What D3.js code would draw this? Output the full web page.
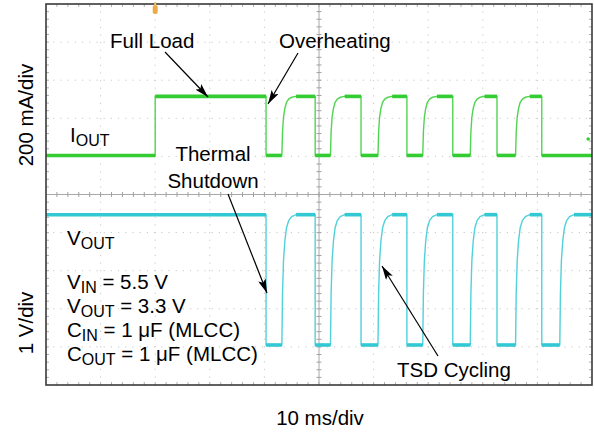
<!DOCTYPE html>
<html>
<head>
<meta charset="utf-8">
<script src="https://cdn.jsdelivr.net/npm/d3@7"></script>
<style>
  html, body { margin: 0; padding: 0; background: #fff; }
  svg { display: block; font-family: "Liberation Sans", Arial, Helvetica, sans-serif; }
</style>
</head>
<body>
<svg id="chart" width="594" height="433"></svg>
<script>
// ---- Scope capture: thermal shutdown cycling ----
const timeDivMs = 10;                 // 10 ms/div
const timeDivisions = 10;
const vertDivisions = 10;

// Edge times (ms)
const loadStepMs = 20.0;
const tsdOffMs = [40.3, 49.3, 57.7, 66.1, 74.5, 82.6, 90.8];
const tsdOnMs  = [43.2, 52.1, 60.8, 69.0, 77.7, 86.0, 94.1];
const loadRemovedMs = 90.8;           // IOUT stays low after the last shutdown

// Channel settings: [scale per div, ground position in divs]
const ioutScale = [200, 1];           // 200 mA/div
const voutScale = [1, -4];            // 1 V/div

// Levels
const ioutLevelsMa = [5, 315];        // no load, full load
const voutLevelsV  = [0.05, 3.47];    // shut down, regulating

// Recovery shape after each restart: [ms after edge, fraction of final level]
const recoveryProfile = [[0, 0], [0.12, 0.4], [0.3, 0.65], [0.55, 0.8], [0.85, 0.9],
                         [1.25, 0.955], [1.8, 0.985], [2.6, 1]];

// Stray sample on IOUT
const ioutStray = [[99.3, 91]];

// ---- Layout ----
const svg = d3.select("#chart");
const plot = { left: 46, right: 592, top: 4, bottom: 385 };

const x = d3.scaleLinear().domain([0, timeDivMs * timeDivisions]).range([plot.left, plot.right]);
const yDiv = d3.scaleLinear().domain([-vertDivisions / 2, vertDivisions / 2]).range([plot.bottom, plot.top]);
const yIout = v => yDiv(v / ioutScale[0] + ioutScale[1]);
const yVout = v => yDiv(v / voutScale[0] + voutScale[1]);

// ---- Graticule ----
const grid = svg.append("g");
const xDivs = d3.range(1, timeDivisions);
const yDivs = d3.range(-vertDivisions / 2 + 1, vertDivisions / 2);

grid.selectAll("line.gv").data(xDivs.filter(d => d !== timeDivisions / 2)).join("line")
  .attr("x1", d => x(d * timeDivMs)).attr("x2", d => x(d * timeDivMs))
  .attr("y1", plot.top).attr("y2", plot.bottom)
  .attr("stroke", "#c8c8c8").attr("stroke-width", 1).attr("stroke-dasharray", "1.2,6.4");
grid.selectAll("line.gh").data(yDivs.filter(d => d !== 0)).join("line")
  .attr("x1", plot.left).attr("x2", plot.right)
  .attr("y1", d => yDiv(d)).attr("y2", d => yDiv(d))
  .attr("stroke", "#c8c8c8").attr("stroke-width", 1).attr("stroke-dasharray", "1.2,6.0");

// Centre axes with minor ticks
const cx = x(timeDivMs * timeDivisions / 2), cy = yDiv(0);
grid.append("line").attr("x1", plot.left).attr("x2", plot.right).attr("y1", cy).attr("y2", cy)
  .attr("stroke", "#a8a8a8").attr("stroke-width", 1);
grid.append("line").attr("x1", cx).attr("x2", cx).attr("y1", plot.top).attr("y2", plot.bottom)
  .attr("stroke", "#a8a8a8").attr("stroke-width", 1);

const minorX = d3.range(1, timeDivisions * 5).map(i => i * timeDivMs / 5);
const minorY = d3.range(1, vertDivisions * 5).map(i => -vertDivisions / 2 + i / 5);
grid.selectAll("line.tx").data(minorX).join("line")
  .attr("x1", d => x(d)).attr("x2", d => x(d)).attr("y1", cy - 2.5).attr("y2", cy + 2.5)
  .attr("stroke", "#a0a0a0").attr("stroke-width", 1);
grid.selectAll("line.ty").data(minorY).join("line")
  .attr("x1", cx - 2.5).attr("x2", cx + 2.5).attr("y1", d => yDiv(d)).attr("y2", d => yDiv(d))
  .attr("stroke", "#a0a0a0").attr("stroke-width", 1);
// Border ticks
grid.selectAll("line.tt").data(minorX).join("line")
  .attr("x1", d => x(d)).attr("x2", d => x(d)).attr("y1", plot.top).attr("y2", plot.top + 3)
  .attr("stroke", "#b0b0b0").attr("stroke-width", 1);
grid.selectAll("line.tb").data(minorX).join("line")
  .attr("x1", d => x(d)).attr("x2", d => x(d)).attr("y1", plot.bottom - 3).attr("y2", plot.bottom)
  .attr("stroke", "#b0b0b0").attr("stroke-width", 1);
grid.selectAll("line.tl").data(minorY).join("line")
  .attr("x1", plot.left).attr("x2", plot.left + 3).attr("y1", d => yDiv(d)).attr("y2", d => yDiv(d))
  .attr("stroke", "#b0b0b0").attr("stroke-width", 1);
grid.selectAll("line.tr").data(minorY).join("line")
  .attr("x1", plot.right - 3).attr("x2", plot.right).attr("y1", d => yDiv(d)).attr("y2", d => yDiv(d))
  .attr("stroke", "#b0b0b0").attr("stroke-width", 1);

// ---- Waveforms ----
// Builds a trace and the list of its flat (noisy) stretches.
function buildTrace(startLevel, events, endMs) {
  const pts = [[0, startLevel]];
  let level = startLevel;
  events.forEach(ev => {
    if (ev.type === "step") {
      pts.push([ev.t, level]); pts.push([ev.t, ev.to]); level = ev.to;
    } else {
      pts.push([ev.t, level]);
      recoveryProfile.forEach(([dt, f]) => pts.push([ev.t + dt, level + (ev.to - level) * f]));
      level = ev.to;
    }
  });
  pts.push([endMs, level]);
  const flats = [];
  for (let i = 1; i < pts.length; i++) {
    if (pts[i][1] === pts[i - 1][1] && pts[i][0] - pts[i - 1][0] > 0.5) flats.push([pts[i - 1], pts[i]]);
  }
  return { pts, flats };
}

const ioutEvents = [{ type: "step", t: loadStepMs, to: ioutLevelsMa[1] }];
const voutEvents = [];
tsdOffMs.forEach((t, i) => {
  ioutEvents.push({ type: "step", t, to: ioutLevelsMa[0] });
  voutEvents.push({ type: "step", t, to: voutLevelsV[0] });
  const on = tsdOnMs[i];
  if (on !== undefined) {
    if (t < loadRemovedMs) ioutEvents.push({ type: "rise", t: on, to: ioutLevelsMa[1] });
    voutEvents.push({ type: "rise", t: on, to: voutLevelsV[1] });
  }
});

const iout = buildTrace(ioutLevelsMa[0], ioutEvents, 100);
const vout = buildTrace(voutLevelsV[1], voutEvents, 100);

const green = "#33cc33", cyan = "#33c9d4";
function drawTrace(tr, yFn, color) {
  const line = d3.line().x(d => x(d[0])).y(d => yFn(d[1]));
  svg.append("path").attr("d", line(tr.pts)).attr("fill", "none")
    .attr("stroke", color).attr("stroke-width", 1.4).attr("opacity", 0.85);
  svg.append("g").selectAll("line").data(tr.flats).join("line")
    .attr("x1", d => x(d[0][0])).attr("x2", d => x(d[1][0]))
    .attr("y1", d => yFn(d[0][1])).attr("y2", d => yFn(d[1][1]))
    .attr("stroke", color).attr("stroke-width", 3.6);
}
drawTrace(iout, yIout, green);
drawTrace(vout, yVout, cyan);
svg.append("g").selectAll("circle").data(ioutStray).join("circle")
  .attr("cx", d => x(d[0])).attr("cy", d => yIout(d[1])).attr("r", 1.8).attr("fill", green);

// ---- Frame ----
svg.append("rect").attr("x", plot.left).attr("y", plot.top)
  .attr("width", plot.right - plot.left).attr("height", plot.bottom - plot.top)
  .attr("fill", "none").attr("stroke", "#3a3a3a").attr("stroke-width", 1.6);

// Trigger position marker
const trig = svg.append("g").attr("transform", `translate(${x(loadStepMs)},0)`);
trig.append("rect").attr("x", -2.5).attr("y", 5).attr("width", 5).attr("height", 9).attr("rx", 2)
  .attr("fill", "#eeaa44");
trig.append("rect").attr("x", -1).attr("y", 2).attr("width", 2).attr("height", 4).attr("fill", "#f0c070");

// ---- Annotations ----
const fs = 20.5, subFs = 16;
const defs = svg.append("defs");
defs.append("marker").attr("id", "arrow").attr("viewBox", "0 0 14 8")
  .attr("refX", 14).attr("refY", 4).attr("markerWidth", 14).attr("markerHeight", 8)
  .attr("markerUnits", "userSpaceOnUse").attr("orient", "auto")
  .append("path").attr("d", "M0,0 L14,4 L0,8 L3,4 Z").attr("fill", "#000");

function arrow(x1, y1, x2, y2) {
  svg.append("line").attr("x1", x1).attr("y1", y1).attr("x2", x2).attr("y2", y2)
    .attr("stroke", "#000").attr("stroke-width", 1.2).attr("marker-end", "url(#arrow)");
}
function label(xp, yp, parts, anchor = "start") {
  const t = svg.append("text").attr("x", xp).attr("y", yp).attr("font-size", fs)
    .attr("fill", "#000").attr("text-anchor", anchor);
  parts.forEach(p => {
    if (typeof p === "string") t.append("tspan").text(p);
    else t.append("tspan").attr("font-size", subFs).attr("dy", 4).text(p.sub)
      .call(s => s.attr("dy", 4));
  });
  // reset baseline after subscripts
  t.selectAll("tspan").each(function (d, i, nodes) {
    const prev = i > 0 ? d3.select(nodes[i - 1]) : null;
    const self = d3.select(this);
    if (!self.attr("font-size") && prev && prev.attr("font-size")) self.attr("dy", -4);
  });
  return t;
}

label(110, 48, ["Full Load"]);
arrow(165, 52, 208, 97);
label(279, 48, ["Overheating"]);
arrow(298, 53, 268, 104);
label(213, 161, ["Thermal"], "middle");
label(213, 188, ["Shutdown"], "middle");
arrow(228, 194, 267, 293);
label(397, 377, ["TSD Cycling"]);
arrow(438, 356, 382, 266);

label(70, 142, ["I", { sub: "OUT" }]);
label(67, 245, ["V", { sub: "OUT" }]);
label(67, 289, ["V", { sub: "IN" }, " = 5.5 V"]);
label(67, 313, ["V", { sub: "OUT" }, " = 3.3 V"]);
label(67, 337, ["C", { sub: "IN" }, " = 1 μF (MLCC)"]);
label(67, 361, ["C", { sub: "OUT" }, " = 1 μF (MLCC)"]);

// Axis titles
svg.append("text").attr("transform", "translate(33,115) rotate(-90)")
  .attr("text-anchor", "middle").attr("font-size", fs).text("200 mA/div");
svg.append("text").attr("transform", "translate(33,323) rotate(-90)")
  .attr("text-anchor", "middle").attr("font-size", fs).text("1 V/div");
svg.append("text").attr("x", 320).attr("y", 425)
  .attr("text-anchor", "middle").attr("font-size", fs).text("10 ms/div");
</script>
</body>
</html>
